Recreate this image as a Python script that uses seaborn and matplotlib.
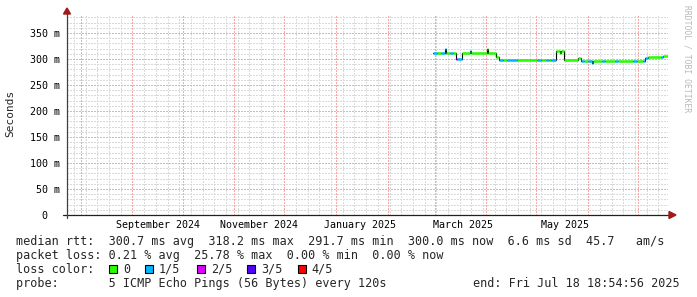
import matplotlib
matplotlib.use("Agg")
import matplotlib.pyplot as plt
from matplotlib.patches import Rectangle, Polygon
import seaborn as sns
import pandas as pd

# ---------------- data ----------------
seg_start = [
    "2025-02-27 18:00", "2025-03-02 14:00", "2025-03-05 00:00", "2025-03-07 10:00",
    "2025-03-08 00:00", "2025-03-10 10:00", "2025-03-12 05:00", "2025-03-13 19:00",
    "2025-03-14 08:00", "2025-03-17 12:00", "2025-03-22 07:00", "2025-03-22 20:00",
    "2025-04-01 07:00", "2025-04-01 20:00", "2025-04-06 22:00", "2025-04-08 17:00",
    "2025-04-11 00:00", "2025-04-13 12:00", "2025-04-19 12:00", "2025-05-01 12:00",
    "2025-05-03 19:00", "2025-05-06 19:00", "2025-05-08 14:00", "2025-05-09 19:00",
    "2025-05-12 19:00", "2025-05-15 05:00", "2025-05-15 19:00", "2025-05-17 17:00",
    "2025-05-26 02:00", "2025-05-27 12:00", "2025-05-29 12:00", "2025-05-31 22:00",
    "2025-06-03 02:00", "2025-06-04 02:00", "2025-06-09 02:00", "2025-06-11 02:00",
    "2025-06-17 02:00", "2025-06-18 22:00", "2025-06-27 19:00", "2025-06-30 05:00",
    "2025-07-04 00:00", "2025-07-05 00:00", "2025-07-07 00:00", "2025-07-14 19:00",
    "2025-07-16 00:00",
]
seg_rtt = [
    312, 312, 312, 319,
    312, 312, 312, 300,
    300, 312, 315, 312,
    320, 312, 304, 298,
    298, 298, 298, 298,
    298, 298, 298, 298,
    316, 312, 316, 298,
    301, 297, 297, 297,
    293, 297, 297, 297,
    297, 297, 297, 297,
    297, 301, 303, 303,
    306,
]
seg_loss = [
    "1/5", "0", "1/5", "1/5",
    "0", "1/5", "0", "2/5",
    "1/5", "0", "1/5", "0",
    "0", "0", "0", "1/5",
    "0", "1/5", "0", "1/5",
    "0", "1/5", "0", "1/5",
    "0", "0", "0", "0",
    "0", "1/5", "0", "1/5",
    "1/5", "0", "1/5", "0",
    "1/5", "0", "1/5", "0",
    "1/5", "1/5", "0", "1/5",
    "0",
]
end_time = "2025-07-18 18:54:56"
window_days = 360

y_ticks = [0, 50, 100, 150, 200, 250, 300, 350]
y_labels = ["0  ", "50 m", "100 m", "150 m", "200 m", "250 m", "300 m", "350 m"]
month_labels = ["September 2024", "November 2024", "January 2025", "March 2025", "May 2025"]
month_label_pos = ["2024-09-16", "2024-11-16", "2025-01-15", "2025-03-18", "2025-05-18"]

loss_names = ["0", "1/5", "2/5", "3/5", "4/5"]
loss_colors = ["#26ff00", "#00b8ff", "#dd00ff", "#5500ff", "#ff0000"]

row_rtt = "median rtt:  300.7 ms avg  318.2 ms max  291.7 ms min  300.0 ms now  6.6 ms sd  45.7   am/s"
row_loss = "packet loss: 0.21 % avg  25.78 % max  0.00 % min  0.00 % now"
row_color = "loss color:"
row_probe = "probe:       5 ICMP Echo Pings (56 Bytes) every 120s"
row_end = "end: Fri Jul 18 18:54:56 2025"
watermark = "RRDTOOL / TOBI OETIKER"
y_title = "Seconds"

# ---------------- build frames ----------------
end = pd.Timestamp(end_time)
start = end - pd.Timedelta(days=window_days)
starts = pd.to_datetime(seg_start)
ends = list(starts[1:]) + [end]

seg_rows = []
for i, (s, e, r, l) in enumerate(zip(starts, ends, seg_rtt, seg_loss)):
    seg_rows.append({"seg": i, "t": s, "rtt": r, "loss": l})
    seg_rows.append({"seg": i, "t": e, "rtt": r, "loss": l})
seg_df = pd.DataFrame(seg_rows)
step_df = pd.DataFrame({"t": list(starts) + [end], "rtt": seg_rtt + [seg_rtt[-1]]})

# ---------------- figure ----------------
sns.set_style("white")
plt.rcParams["font.family"] = ["DejaVu Sans Mono", "DejaVu Sans"]

W, H = 697, 297
fig = plt.figure(figsize=(W / 100, H / 100), dpi=100, facecolor="white")
L, R, B, T = 67, 668, 215, 15
ax = fig.add_axes([L / W, (H - B) / H, (R - L) / W, (B - T) / H])
ax.set_facecolor("white")

ymax = 200 / 0.52
ax.set_ylim(0, ymax)
ax.set_xlim(start, end)

# grids (crisp 1px dotted)
px = 0.72
dot = (0, (1.4, 1.4))
week_grid = pd.date_range("2024-07-28", end, freq="7D")
month_grid = pd.date_range("2024-08-01", end, freq="MS")
gkw = dict(lw=px, ls=dot, antialiased=False)
for d in week_grid:
    ax.axvline(d, color="#dadada", zorder=0.5, **gkw)
for v in range(10, 390, 10):
    if v % 50:
        ax.axhline(v, color="#dadada", zorder=0.5, **gkw)
for d in month_grid:
    ax.axvline(d, color="#f4aaaa", zorder=0.6, **gkw)
for v in y_ticks[1:]:
    ax.axhline(v, color="#f4aaaa", zorder=0.6, **gkw)

# data
sns.lineplot(data=step_df, x="t", y="rtt", drawstyle="steps-post", color="black",
             lw=0.8, estimator=None, sort=False, ax=ax, zorder=2)
sns.lineplot(data=seg_df, x="t", y="rtt", hue="loss", units="seg", estimator=None,
             palette=dict(zip(loss_names, loss_colors)), hue_order=loss_names,
             lw=1.8, sort=False, legend=False, ax=ax, zorder=3,
             solid_capstyle="butt")

# ticks
ax.set_yticks(y_ticks)
ax.set_yticklabels(y_labels)
ax.set_xticks(pd.to_datetime(month_label_pos))
ax.set_xticklabels(month_labels)
ax.tick_params(axis="y", length=0, pad=5, labelsize=7.2, colors="black")
ax.tick_params(axis="x", length=0, pad=3.5, labelsize=7.2, colors="black")
ax.set_xlabel("")
ax.set_ylabel("")
for sp in ax.spines.values():
    sp.set_visible(False)

# axes lines and arrows
w_ax, h_ax = R - L, B - T
ax.plot([-4 / w_ax, 1 + 2 / w_ax], [0, 0], transform=ax.transAxes, color="#202020",
        lw=0.9, clip_on=False, zorder=4)
ax.plot([0, 0], [-3 / h_ax, 1 + 1 / h_ax], transform=ax.transAxes, color="#404040",
        lw=0.9, clip_on=False, zorder=4)
ax.add_patch(Polygon([(1 + 1 / w_ax, 3.5 / h_ax), (1 + 1 / w_ax, -3.5 / h_ax), (1 + 8 / w_ax, 0)],
                     closed=True, transform=ax.transAxes, color="#a01818", clip_on=False, zorder=5))
ax.add_patch(Polygon([(-3.5 / w_ax, 1 + 1 / h_ax), (3.5 / w_ax, 1 + 1 / h_ax), (0, 1 + 7 / h_ax)],
                     closed=True, transform=ax.transAxes, color="#a01818", clip_on=False, zorder=5))

# texts
def fx(x):
    return x / W

def fy(y):
    return 1 - y / H

fig.text(fx(10), fy(113), y_title, rotation=90, ha="center", va="center", fontsize=8)
fig.text(fx(687), fy(5), watermark, rotation=270, ha="center", va="top", fontsize=5.8,
         color="#b8b8b8")

fs = 8.5
fig.text(fx(16), fy(241.5), row_rtt, ha="left", va="center", fontsize=fs)
fig.text(fx(16), fy(255.5), row_loss, ha="left", va="center", fontsize=fs)
fig.text(fx(16), fy(269.5), row_color, ha="left", va="center", fontsize=fs)
fig.text(fx(16), fy(283.5), row_probe, ha="left", va="center", fontsize=fs)
fig.text(fx(680), fy(283.5), row_end, ha="right", va="center", fontsize=fs)

box_x = [109, 145, 197, 247, 298]
lab_x = [123, 159, 211, 261, 311]
for bx, lx, name, col in zip(box_x, lab_x, loss_names, loss_colors):
    fig.patches.append(Rectangle((fx(bx), fy(272.5)), 8 / W, 8 / H, transform=fig.transFigure,
                                 facecolor=col, edgecolor="black", lw=0.8, figure=fig))
    fig.text(fx(lx), fy(269.5), name, ha="left", va="center", fontsize=fs)

fig.savefig("out.png", dpi=100, facecolor="white")
